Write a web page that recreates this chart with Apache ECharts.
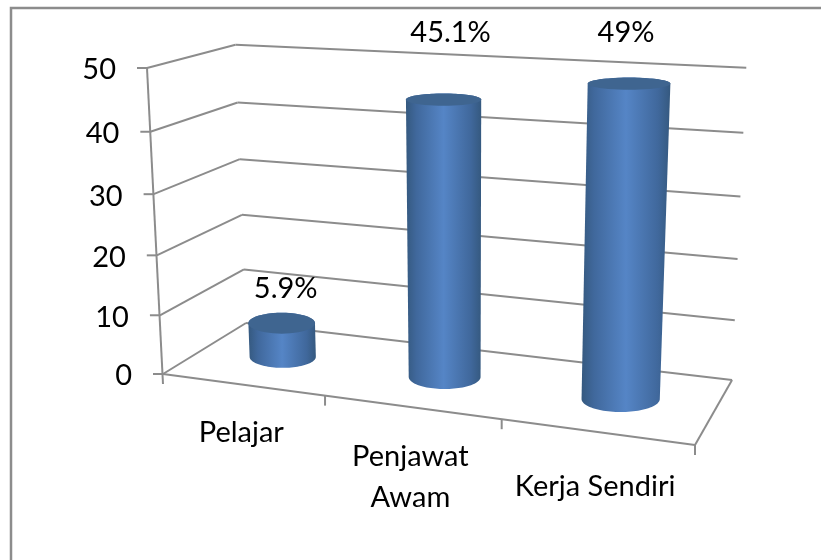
<!DOCTYPE html>
<html><head><meta charset="utf-8">
<style>html,body{margin:0;padding:0;background:#fff}#c{width:821px;height:560px}</style>
<script src="https://cdn.jsdelivr.net/npm/echarts@6/dist/echarts.min.js"></script>
</head><body><div id="c"></div>
<script>
const categories = ['Pelajar', 'Penjawat\nAwam', 'Kerja Sendiri'];
const values = [5.9, 45.1, 49];
const valueLabels = ['5.9%', '45.1%', '49%'];
const yTicks = [0, 10, 20, 30, 40, 50];

// Perspective frame of the 3D plot box (image of unit-cube corners)
const A = [163, 374], B = [695, 445], C = [147, 68], D = [246, 323];
const wB = 0.876, wC = 0.95, wD = 1.104;
const depth = 0.5, radX = 0.071, radZ = 0.21;
const labelShift = [[4, -35], [7, -67], [-3, -51]];
const catShift = [[-1, 48], [-1, 70], [-1, 55]];
const FONT = 'Lato, Carlito, sans-serif';
const GRID = '#8c8c8c';

function projector(api) {
  const o = api.coord([0, 0]), e = api.coord([3, 50]);
  return function (x, y, z) {
    const c = api.coord([x, y]);
    const X = (c[0] - o[0]) / (e[0] - o[0]), Y = (c[1] - o[1]) / (e[1] - o[1]);
    const a = wB * X, b = wC * Y, d = wD * z, r = 1 - X - Y - z;
    const w = a + b + d + r;
    return [(a * B[0] + b * C[0] + d * D[0] + r * A[0]) / w,
            (a * B[1] + b * C[1] + d * D[1] + r * A[1]) / w];
  };
}
const line = (p, q, w) => ({type: 'line', shape: {x1: p[0], y1: p[1], x2: q[0], y2: q[1]},
  style: {stroke: GRID, lineWidth: w || 2}});

function renderTick(params, api) {
  const P = projector(api), v = api.value(0);
  const front = P(0, v, 0), back = P(0, v, 1), right = P(3, v, 1);
  const children = [
    line(front, back), line(back, right),
    line([front[0] - 10, front[1]], front),
    {type: 'text', style: {text: String(v), x: front[0] - 31, y: front[1] + 2, align: 'right', verticalAlign: 'middle',
      font: '29px ' + FONT, fill: '#000'}}
  ];
  return {type: 'group', children};
}
function renderBox(params, api) {
  const P = projector(api), i = api.value(0);
  const children = [];
  if (i === 0) {
    const bot = P(0, 0, 0);
    children.push(line(P(0, 50, 0), [bot[0], bot[1] + 10]));
    children.push(line(bot, P(3, 0, 0)));
    children.push(line(P(3, 0, 0), P(3, 0, 1)));
  }
  const t = P(i + 1, 0, 0);
  children.push(line(t, [t[0], t[1] + 10]));
  const m = P(i + 0.5, 0, 0);
  children.push({type: 'text', style: {text: categories[i], x: m[0] + catShift[i][0], y: m[1] + catShift[i][1],
    align: 'center', verticalAlign: 'middle', lineHeight: 41, font: '29px ' + FONT, fill: '#000'}});
  return {type: 'group', children};
}
function renderCylinder(params, api) {
  const P = projector(api), i = api.value(0), v = api.value(1), x = i + 0.5;
  const r3 = radX * 3;
  const disc = yv => {
    const c = P(x, yv, depth), l = P(x - r3, yv, depth), rr = P(x + r3, yv, depth);
    const n = P(x, yv, depth - radZ), f = P(x, yv, depth + radZ);
    return {cx: c[0], cy: c[1], rx: (rr[0] - l[0]) / 2, ry: Math.abs(n[1] - f[1]) / 2};
  };
  const bot = disc(0), top = disc(v), STEPS = 48;
  const arc = (e, from, to) => {
    const pts = [];
    for (let k = 0; k <= STEPS; k++) {
      const t = from + (to - from) * k / STEPS;
      pts.push([e.cx + e.rx * Math.cos(t), e.cy + e.ry * Math.sin(t)]);
    }
    return pts;
  };
  const body = arc(bot, 0, Math.PI).concat(arc(top, Math.PI, 2 * Math.PI));
  const grad = new echarts.graphic.LinearGradient(0, 0, 1, 0, [
    {offset: 0, color: '#35597f'}, {offset: 0.14, color: '#40689c'},
    {offset: 0.5, color: '#5585c6'}, {offset: 0.86, color: '#40689c'}, {offset: 1, color: '#35597f'}]);
  const lab = P(x, v, depth);
  return {type: 'group', children: [
    {type: 'polygon', shape: {points: body}, style: {fill: grad}},
    {type: 'polygon', shape: {points: arc(top, 0, 2 * Math.PI)}, style: {fill: '#3f6590'}},
    {type: 'text', style: {text: valueLabels[i], x: lab[0] + labelShift[i][0], y: lab[1] + labelShift[i][1],
      align: 'center', verticalAlign: 'middle', font: '29px ' + FONT, fill: '#000'}}
  ]};
}

const chart = echarts.init(document.getElementById('c'), null, {renderer: 'canvas'});
chart.setOption({
  animation: false,
  backgroundColor: '#fff',
  grid: {left: 140, right: 70, top: 40, bottom: 110},
  xAxis: {type: 'value', min: 0, max: 3, interval: 1, show: false},
  yAxis: {type: 'value', min: 0, max: 50, interval: 10, show: false},
  graphic: [{type: 'polyline', shape: {points: [[11, 560], [11, 8], [821, 8]]}, style: {stroke: GRID, fill: null, lineWidth: 2.5}}],
  series: [
    {type: 'custom', name: 'ticks', coordinateSystem: 'cartesian2d', clip: false, z: 1,
     data: yTicks.map(v => [v]), encode: {x: [], y: 0}, renderItem: renderTick},
    {type: 'custom', name: 'box', coordinateSystem: 'cartesian2d', clip: false, z: 2,
     data: categories.map((c, i) => [i]), encode: {x: 0, y: []}, renderItem: renderBox},
    {type: 'custom', name: 'Nilai', coordinateSystem: 'cartesian2d', clip: false, z: 3,
     data: values.map((v, i) => [i, v]), encode: {x: 0, y: 1}, renderItem: renderCylinder}
  ]
});
</script></body></html>
